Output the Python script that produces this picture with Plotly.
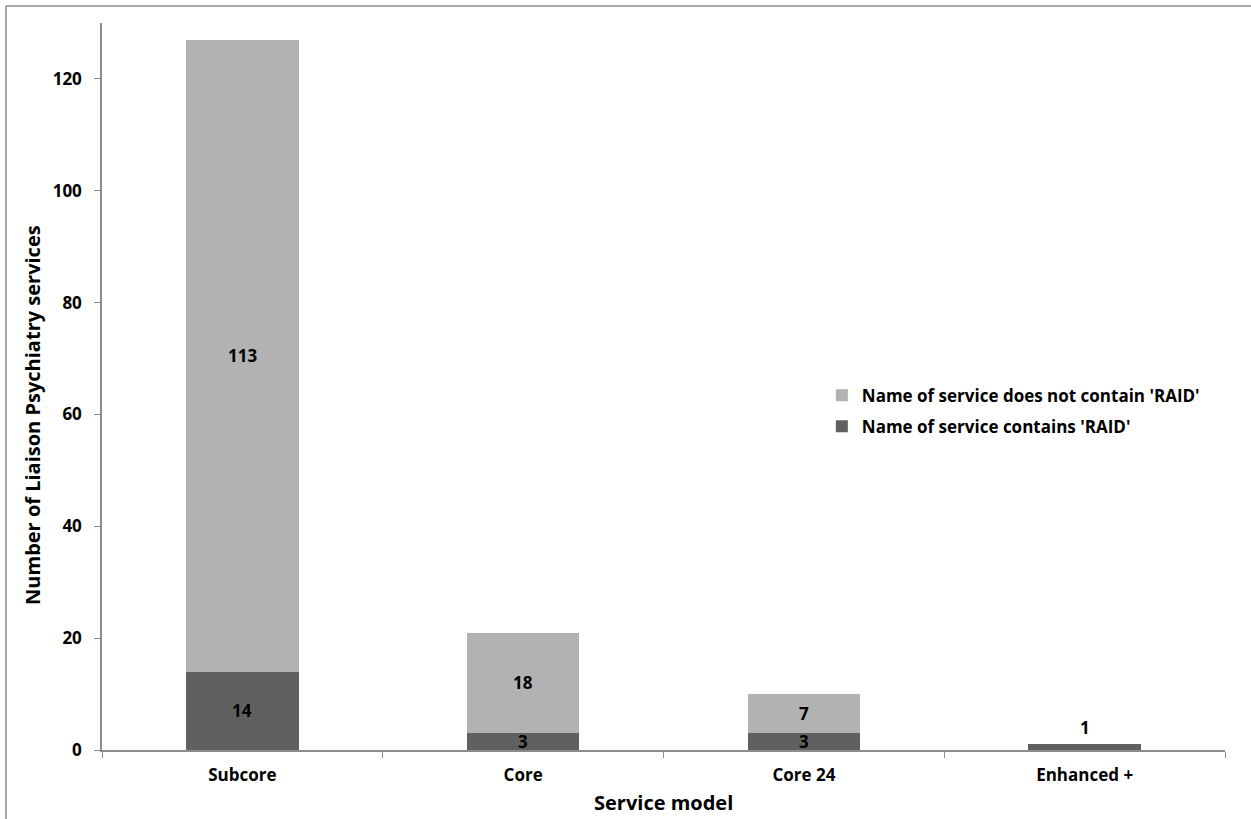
import plotly.graph_objects as go

categories = ["Subcore", "Core", "Core 24", "Enhanced +"]
raid = [14, 3, 3, 1]
no_raid = [113, 18, 7, 0]
no_raid_labels = ["113", "18", "7", ""]
raid_labels = ["14", "3", "3", "1"]

light = "#b2b2b2"
dark = "#606060"
axis_col = "#8c8c8c"
font_fam = "'Open Sans', Lato, sans-serif"
bold = dict(color="black", family=font_fam, weight="bold")

fig = go.Figure()
fig.add_trace(go.Bar(x=categories, y=raid, name="Name of service contains 'RAID'", legendgroup="a",
                     legendrank=2, marker=dict(color=dark, line=dict(width=0)), width=0.4))
fig.add_trace(go.Bar(x=categories, y=no_raid, name="Name of service does not contain 'RAID'",
                     legendgroup="b", legendrank=1,
                     marker=dict(color=light, line=dict(width=0)), width=0.4))

# data labels
for c, r, n, rl, nl in zip(categories, raid, no_raid, raid_labels, no_raid_labels):
    if n > 0:
        fig.add_annotation(x=c, y=r + n / 2, text=nl, showarrow=False, font=dict(size=17, **bold))
        fig.add_annotation(x=c, y=r / 2, text=rl, showarrow=False, font=dict(size=17, **bold))
    else:
        fig.add_annotation(x=c, y=r, text=rl, showarrow=False, yanchor="bottom",
                           yshift=3, font=dict(size=17, **bold))

fig.add_annotation(xref="paper", yref="paper", x=-0.0614, y=0.461, xanchor="center", yanchor="middle",
                   textangle=-90, text="Number of Liaison Psychiatry services", showarrow=False,
                   font=dict(size=20, **bold))
fig.add_annotation(xref="paper", yref="paper", x=0.5, y=-0.0729, xanchor="center", yanchor="middle",
                   text="Service model", showarrow=False, font=dict(size=20, **bold))

# figure frame (only top and left edges are visible in the reference)
fig.add_shape(type="line", xref="paper", yref="paper", x0=-0.0855, x1=1.05, y0=1.0234, y1=1.0234,
              line=dict(color="#8a8a8a", width=1.5), layer="below")
fig.add_shape(type="line", xref="paper", yref="paper", x0=-0.0855, x1=-0.0855, y0=1.0234, y1=-0.2,
              line=dict(color="#8a8a8a", width=1.5), layer="below")

fig.update_layout(
    width=1251, height=819,
    margin=dict(l=102, r=26, t=23, b=69, autoexpand=False),
    barmode="stack",
    plot_bgcolor="white", paper_bgcolor="white",
    font=dict(family=font_fam, color="black"),
    showlegend=True,
    legend=dict(x=0.641, y=0.466, xanchor="left", yanchor="middle", traceorder="grouped",
                font=dict(size=17, **bold), itemwidth=30,
                bgcolor="rgba(0,0,0,0)", tracegroupgap=6),
    xaxis=dict(type="category", range=[-0.5, 3.5], showline=True, linecolor=axis_col, linewidth=1.5,
               ticks="outside", tickson="boundaries", ticklen=6, tickcolor=axis_col,
               tickfont=dict(size=17, **bold), automargin=False, ticklabelstandoff=9,
               showgrid=False, zeroline=False),
    yaxis=dict(range=[0, 130], tickvals=[0, 20, 40, 60, 80, 100, 120], showline=True,
               linecolor=axis_col, linewidth=1.5, ticks="outside", ticklen=6, tickcolor=axis_col,
               tickfont=dict(size=17, **bold), automargin=False, ticklabelstandoff=9,
               showgrid=False, zeroline=False),
)

fig.write_html("out.html", config={"displayModeBar": False},
               post_script="document.body.style.margin='0';")
